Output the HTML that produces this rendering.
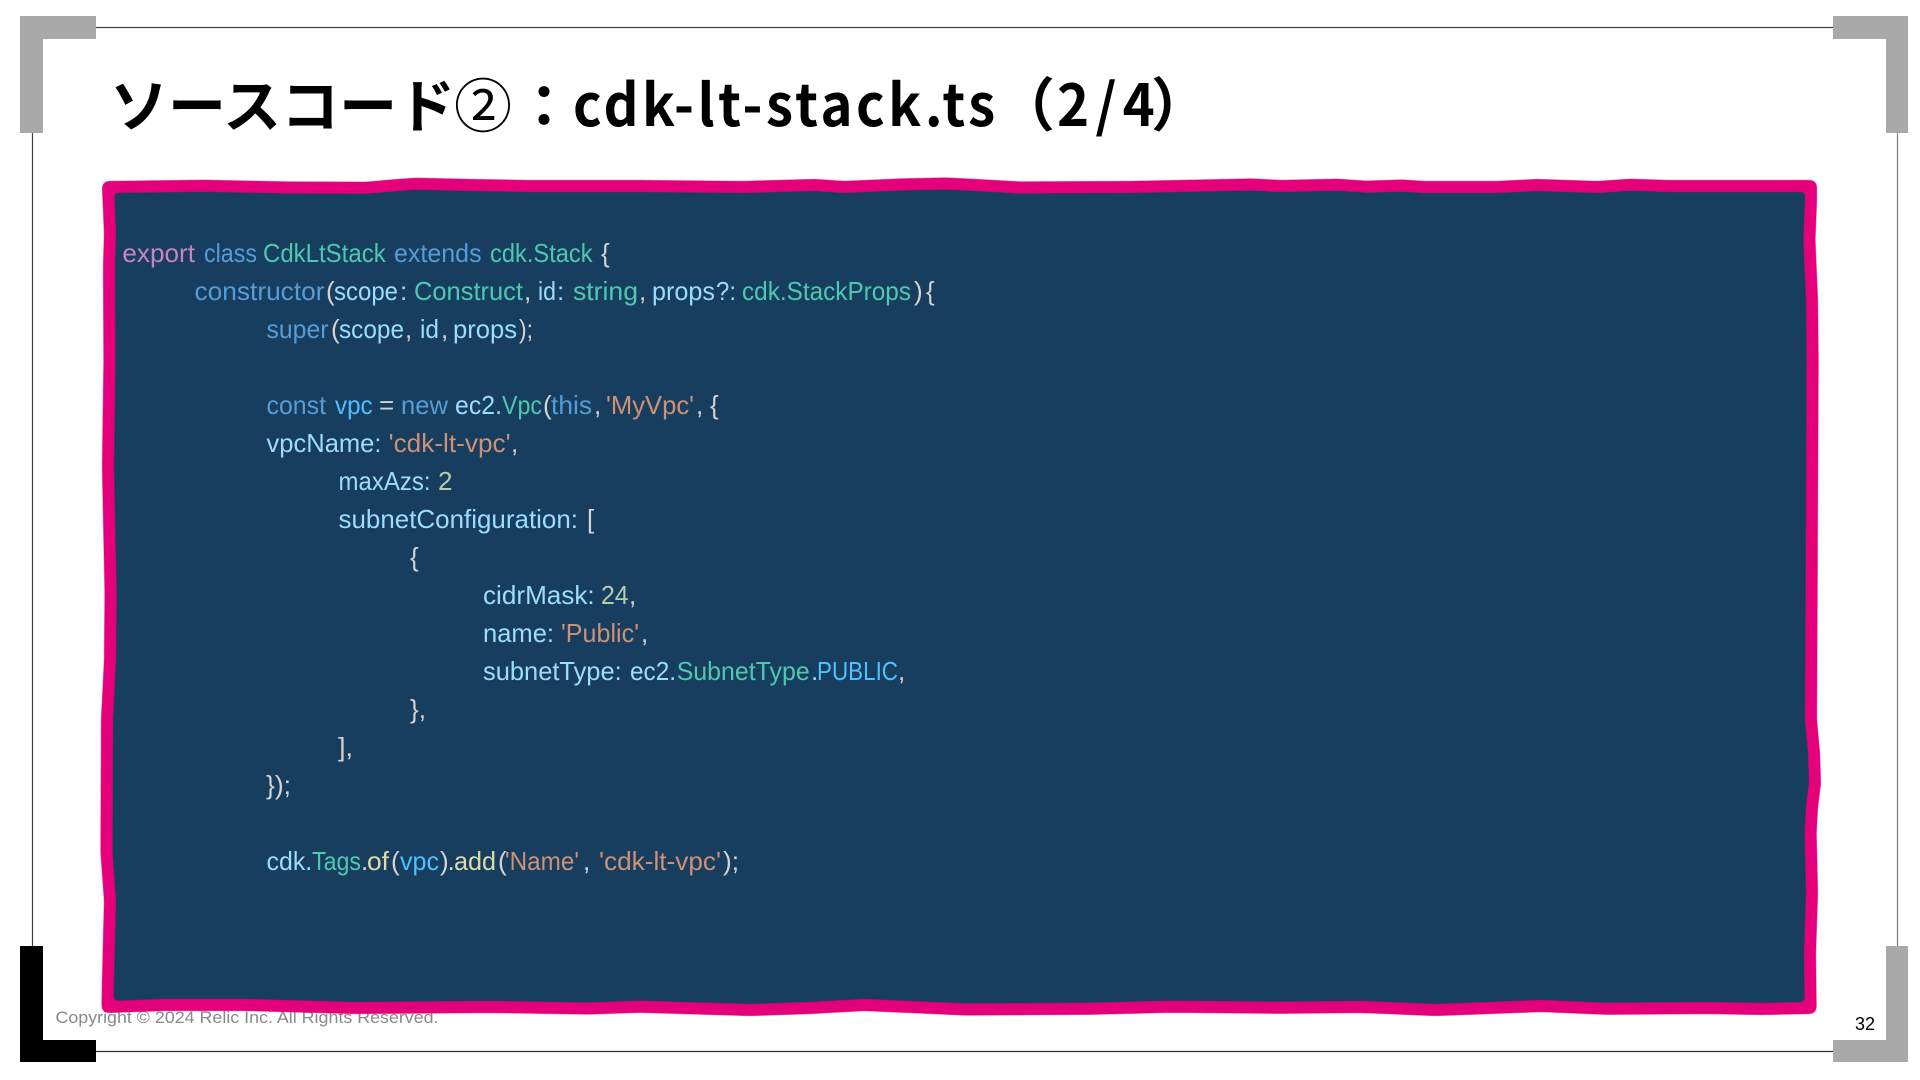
<!DOCTYPE html>
<html lang="ja"><head><meta charset="utf-8"><title>ソースコード②：cdk-lt-stack.ts（2/4）</title>
<style>
html,body{margin:0;padding:0;background:#fff;width:1920px;height:1080px;overflow:hidden}
svg{display:block}
.t{font-family:"Noto Sans CJK JP","Liberation Sans",sans-serif;font-weight:700;font-size:58px;fill:#000}
.c{font-family:"Liberation Sans","Noto Sans CJK JP",sans-serif;font-size:26px;fill:#D4D4D4}
.k{fill:#569CD6}.p{fill:#C586C0}.g{fill:#4EC9B0}.v{fill:#9CDCFE}.s{fill:#CE9178}.n{fill:#B5CEA8}.f{fill:#DCDCAA}.b{fill:#4FC1FF}
</style></head><body>
<svg width="1920" height="1080" viewBox="0 0 1920 1080" xmlns="http://www.w3.org/2000/svg">
<defs>
<filter id="sm" filterUnits="userSpaceOnUse" x="0" y="100" width="1920" height="980" color-interpolation-filters="sRGB">
<feGaussianBlur stdDeviation="2.5"/>
<feComponentTransfer><feFuncA type="linear" slope="6" intercept="-2.5"/></feComponentTransfer>
</filter>
<path id="fr" d="M108 187 L204 185.8 L286 187.5 L367 187.7 L392 185.5 L416 183.7 L470 185 L530 186 L640 186 L742 187 L815 185 L844 187 L900 184.5 L946 183.5 L985 185.5 L1020 187.5 L1130 187 L1252 184.5 L1280 186 L1337 184.7 L1366 186.7 L1402 185.5 L1423 187 L1496 187 L1537 185 L1598 187 L1631 184.7 L1668 186 L1811 186 L1811 200 L1809.4 240 L1812 300 L1812.6 360 L1812 500 L1811 720 L1814 753 L1815 783 L1812 807 L1810.6 833 L1812 893 L1810 953 L1810.6 1008 L1761 1009 L1708 1008 L1606 1008.8 L1541 1006 L1490 1008 L1435 1010 L1362 1007 L1280 1007.8 L1170.6 1006.7 L1089 1008.8 L966.5 1009.5 L910 1007 L864.5 1005 L810 1008 L750 1010 L640 1006.7 L588 1008.5 L490 1007 L355 1008 L245 1005 L163 1005 L107.5 1007 L107.8 987 L110 900 L106.5 853 L107 720 L110 660 L110.6 593 L108 467 L109.5 360 L109 267 L110 233 L108 187 Z"/>
</defs>
<rect width="1920" height="1080" fill="#fff"/>
<g fill="none" stroke-width="1.2">
<path d="M96 27.5H1833" stroke="#404040"/>
<path d="M96 1051.5H1833" stroke="#303030"/>
<path d="M32.5 133V946" stroke="#404040"/>
<path d="M1897.5 133V946" stroke="#808080"/>
</g>
<path d="M20 16H96V39H43V133H20Z" fill="#A9A9A9"/>
<path d="M1908 16H1833V39H1886V133H1908Z" fill="#A9A9A9"/>
<path d="M1908 1062H1833V1040H1886V946H1908Z" fill="#A9A9A9"/>
<path d="M20 1062H96V1040H43V946H20Z" fill="#000"/>

<text x="55.5" y="1023" font-family="'Liberation Sans',sans-serif" font-size="17" fill="#888" textLength="383" lengthAdjust="spacingAndGlyphs">Copyright © 2024 Relic Inc. All Rights Reserved.</text>
<text x="1855" y="1030" font-family="'Liberation Sans',sans-serif" font-size="18" fill="#000" textLength="20" lengthAdjust="spacingAndGlyphs">32</text>

<use href="#fr" fill="#173D5F"/>
<g filter="url(#sm)"><use href="#fr" fill="none" stroke="#E3007A" stroke-width="12" stroke-linejoin="round"/></g>

<text class="t" x="110" y="127">ソースコード</text>
<text class="t" style="font-weight:400" x="454" y="127">②</text>
<text class="t" x="515" y="127">：</text>
<text class="t" transform="translate(573 126) scale(.94 1)" textLength="449">cdk-lt-stack.ts</text>
<text class="t" x="997" y="126">（</text>
<text class="t" transform="translate(1057 126) scale(.94 1)" textLength="104">2/4</text>
<text class="t" x="1151" y="126">）</text>

<g transform="translate(0 -1)">
<text class="c p" x="122.4" y="263" textLength="72.6" lengthAdjust="spacingAndGlyphs">export</text>
<text class="c k" x="204" y="263" textLength="53" lengthAdjust="spacingAndGlyphs">class</text>
<text class="c g" x="263" y="263" textLength="122.7" lengthAdjust="spacingAndGlyphs">CdkLtStack</text>
<text class="c k" x="394" y="263" textLength="87.6" lengthAdjust="spacingAndGlyphs">extends</text>
<text class="c g" x="490" y="263" textLength="102.6" lengthAdjust="spacingAndGlyphs">cdk.Stack</text>
<text class="c" x="601" y="263">{</text>

<text class="c k" x="194.5" y="301" textLength="130" lengthAdjust="spacingAndGlyphs">constructor</text>
<text class="c" x="326" y="301">(</text>
<text class="c v" x="334" y="301" textLength="64" lengthAdjust="spacingAndGlyphs">scope</text>
<text class="c v" x="400" y="301">:</text>
<text class="c g" x="414" y="301" textLength="109" lengthAdjust="spacingAndGlyphs">Construct</text>
<text class="c" x="524" y="301">,</text>
<text class="c v" x="538" y="301" textLength="18" lengthAdjust="spacingAndGlyphs">id</text>
<text class="c v" x="557" y="301">:</text>
<text class="c g" x="573" y="301" textLength="65" lengthAdjust="spacingAndGlyphs">string</text>
<text class="c" x="639" y="301">,</text>
<text class="c v" x="652" y="301" textLength="63" lengthAdjust="spacingAndGlyphs">props</text>
<text class="c v" x="716" y="301" textLength="20" lengthAdjust="spacingAndGlyphs">?:</text>
<text class="c g" x="742" y="301" textLength="169" lengthAdjust="spacingAndGlyphs">cdk.StackProps</text>
<text class="c" x="914" y="301">)</text>
<text class="c" x="926" y="301">{</text>

<text class="c k" x="266.5" y="339" textLength="62" lengthAdjust="spacingAndGlyphs">super</text>
<text class="c" x="331" y="339">(</text>
<text class="c v" x="339" y="339" textLength="65" lengthAdjust="spacingAndGlyphs">scope</text>
<text class="c" x="405" y="339">,</text>
<text class="c v" x="420" y="339" textLength="19" lengthAdjust="spacingAndGlyphs">id</text>
<text class="c" x="441" y="339">,</text>
<text class="c v" x="453" y="339" textLength="64" lengthAdjust="spacingAndGlyphs">props</text>
<text class="c" x="519" y="339" textLength="14" lengthAdjust="spacingAndGlyphs">);</text>

<text class="c k" x="266.5" y="415" textLength="59.5" lengthAdjust="spacingAndGlyphs">const</text>
<text class="c b" x="335" y="415" textLength="37.6" lengthAdjust="spacingAndGlyphs">vpc</text>
<text class="c" x="379" y="415">=</text>
<text class="c k" x="401" y="415" textLength="47" lengthAdjust="spacingAndGlyphs">new</text>
<text class="c v" x="455" y="415" textLength="47" lengthAdjust="spacingAndGlyphs">ec2.</text>
<text class="c g" x="502" y="415" textLength="40" lengthAdjust="spacingAndGlyphs">Vpc</text>
<text class="c" x="543" y="415">(</text>
<text class="c k" x="551" y="415" textLength="41" lengthAdjust="spacingAndGlyphs">this</text>
<text class="c" x="594" y="415">,</text>
<text class="c s" x="606" y="415" textLength="88" lengthAdjust="spacingAndGlyphs">'MyVpc'</text>
<text class="c" x="696" y="415">,</text>
<text class="c" x="710" y="415">{</text>

<text class="c v" x="266.5" y="453" textLength="115" lengthAdjust="spacingAndGlyphs">vpcName:</text>
<text class="c s" x="388.6" y="453" textLength="122" lengthAdjust="spacingAndGlyphs">'cdk-lt-vpc'</text>
<text class="c" x="511" y="453">,</text>

<text class="c v" x="338.5" y="491" textLength="92" lengthAdjust="spacingAndGlyphs">maxAzs:</text>
<text class="c n" x="438" y="491">2</text>

<text class="c v" x="338.5" y="529" textLength="239.5" lengthAdjust="spacingAndGlyphs">subnetConfiguration:</text>
<text class="c" x="587" y="529">[</text>

<text class="c" x="410" y="567">{</text>

<text class="c v" x="483" y="605" textLength="111.7" lengthAdjust="spacingAndGlyphs">cidrMask:</text>
<text class="c n" x="601" y="605" textLength="27.6" lengthAdjust="spacingAndGlyphs">24</text>
<text class="c" x="629" y="605">,</text>

<text class="c v" x="483" y="643" textLength="71" lengthAdjust="spacingAndGlyphs">name:</text>
<text class="c s" x="561" y="643" textLength="78" lengthAdjust="spacingAndGlyphs">'Public'</text>
<text class="c" x="641" y="643">,</text>

<text class="c v" x="483" y="681" textLength="138.7" lengthAdjust="spacingAndGlyphs">subnetType:</text>
<text class="c v" x="630" y="681" textLength="46" lengthAdjust="spacingAndGlyphs">ec2.</text>
<text class="c g" x="676.7" y="681" textLength="133" lengthAdjust="spacingAndGlyphs">SubnetType</text>
<text class="c v" x="811" y="681">.</text>
<text class="c b" x="817" y="681" textLength="81" lengthAdjust="spacingAndGlyphs">PUBLIC</text>
<text class="c" x="898" y="681">,</text>

<text class="c" x="410" y="719" textLength="16" lengthAdjust="spacingAndGlyphs">},</text>
<text class="c" x="338" y="757" textLength="15" lengthAdjust="spacingAndGlyphs">],</text>
<text class="c" x="266" y="795" textLength="25" lengthAdjust="spacingAndGlyphs">});</text>

<text class="c v" x="266.5" y="871" textLength="45.7" lengthAdjust="spacingAndGlyphs">cdk.</text>
<text class="c g" x="312" y="871" textLength="49" lengthAdjust="spacingAndGlyphs">Tags</text>
<text class="c" x="361" y="871">.</text>
<text class="c f" x="367" y="871" textLength="22" lengthAdjust="spacingAndGlyphs">of</text>
<text class="c" x="391" y="871">(</text>
<text class="c b" x="400" y="871" textLength="39" lengthAdjust="spacingAndGlyphs">vpc</text>
<text class="c" x="440" y="871">)</text>
<text class="c" x="447.5" y="871">.</text>
<text class="c f" x="454" y="871" textLength="42" lengthAdjust="spacingAndGlyphs">add</text>
<text class="c" x="498" y="871">(</text>
<text class="c s" x="505" y="871" textLength="74" lengthAdjust="spacingAndGlyphs">'Name'</text>
<text class="c" x="583" y="871">,</text>
<text class="c s" x="599" y="871" textLength="122" lengthAdjust="spacingAndGlyphs">'cdk-lt-vpc'</text>
<text class="c" x="723" y="871" textLength="16" lengthAdjust="spacingAndGlyphs">);</text>
</g>
</svg>
</body></html>
